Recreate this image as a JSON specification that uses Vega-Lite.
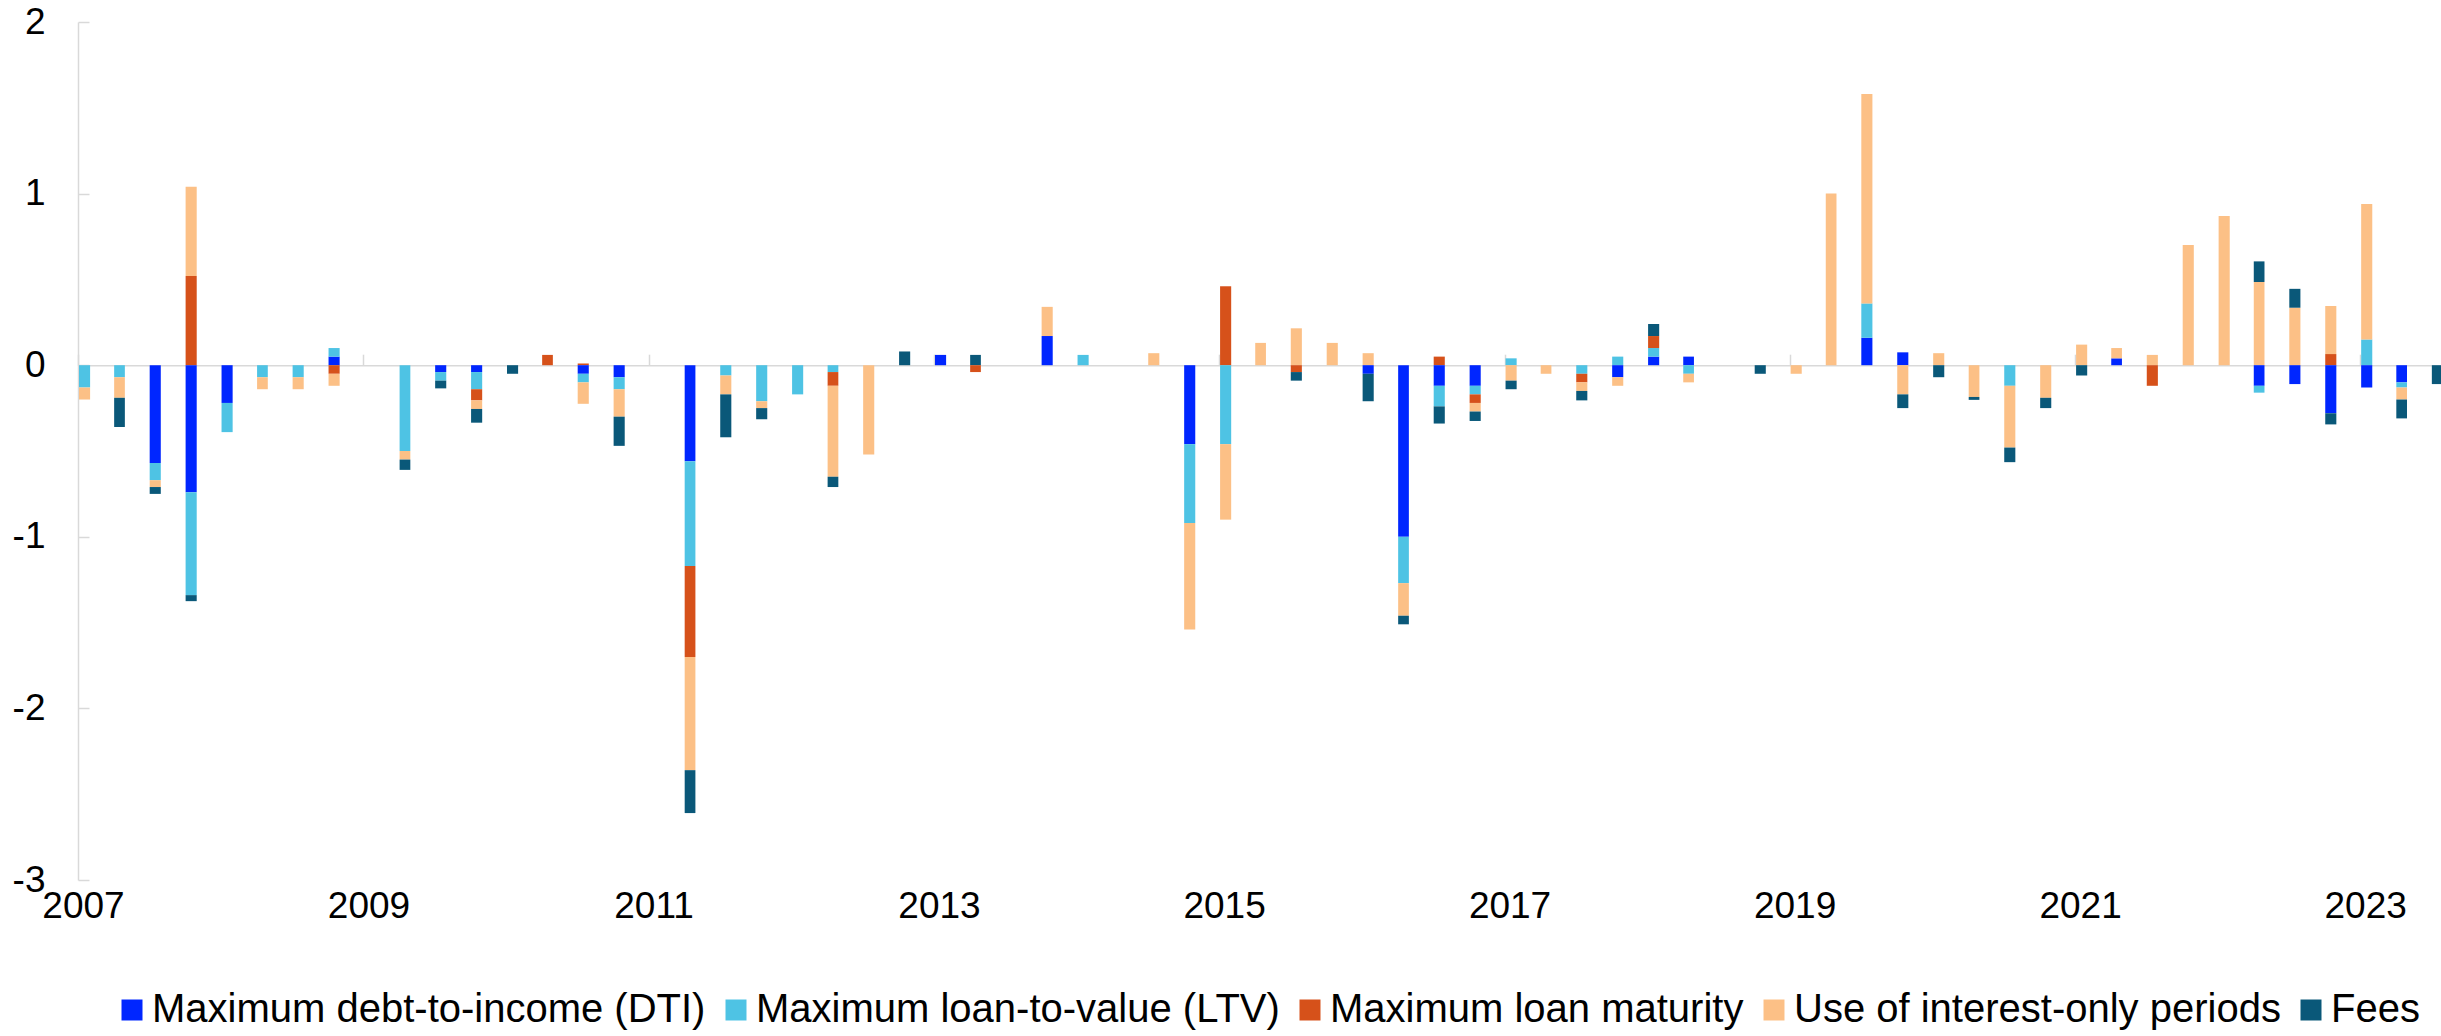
{
  "$schema": "https://vega.github.io/schema/vega-lite/v6.json",
  "width": 2363,
  "height": 858,
  "autosize": {"type": "none"},
  "padding": {"left": 78, "top": 22, "right": 0, "bottom": 156},
  "background": "white",
  "config": {"view": {"stroke": null}, "font": "Liberation Sans"},
  "data": {"values": [
    {"date": "2007-01", "series": "Maximum loan-to-value (LTV)", "value": -0.13},
    {"date": "2007-01", "series": "Use of interest-only periods", "value": -0.07},
    {"date": "2007-04", "series": "Maximum loan-to-value (LTV)", "value": -0.07},
    {"date": "2007-04", "series": "Use of interest-only periods", "value": -0.12},
    {"date": "2007-04", "series": "Fees", "value": -0.17},
    {"date": "2007-07", "series": "Maximum debt-to-income (DTI)", "value": -0.57},
    {"date": "2007-07", "series": "Maximum loan-to-value (LTV)", "value": -0.10},
    {"date": "2007-07", "series": "Use of interest-only periods", "value": -0.04},
    {"date": "2007-07", "series": "Fees", "value": -0.04},
    {"date": "2007-10", "series": "Maximum loan maturity", "value": 0.52},
    {"date": "2007-10", "series": "Use of interest-only periods", "value": 0.52},
    {"date": "2007-10", "series": "Maximum debt-to-income (DTI)", "value": -0.74},
    {"date": "2007-10", "series": "Maximum loan-to-value (LTV)", "value": -0.60},
    {"date": "2007-10", "series": "Fees", "value": -0.035},
    {"date": "2008-01", "series": "Maximum debt-to-income (DTI)", "value": -0.22},
    {"date": "2008-01", "series": "Maximum loan-to-value (LTV)", "value": -0.17},
    {"date": "2008-04", "series": "Maximum loan-to-value (LTV)", "value": -0.07},
    {"date": "2008-04", "series": "Use of interest-only periods", "value": -0.07},
    {"date": "2008-07", "series": "Maximum loan-to-value (LTV)", "value": -0.07},
    {"date": "2008-07", "series": "Use of interest-only periods", "value": -0.07},
    {"date": "2008-10", "series": "Maximum debt-to-income (DTI)", "value": 0.05},
    {"date": "2008-10", "series": "Maximum loan-to-value (LTV)", "value": 0.05},
    {"date": "2008-10", "series": "Maximum loan maturity", "value": -0.05},
    {"date": "2008-10", "series": "Use of interest-only periods", "value": -0.07},
    {"date": "2009-04", "series": "Maximum loan-to-value (LTV)", "value": -0.50},
    {"date": "2009-04", "series": "Use of interest-only periods", "value": -0.05},
    {"date": "2009-04", "series": "Fees", "value": -0.06},
    {"date": "2009-07", "series": "Maximum debt-to-income (DTI)", "value": -0.04},
    {"date": "2009-07", "series": "Maximum loan-to-value (LTV)", "value": -0.05},
    {"date": "2009-07", "series": "Fees", "value": -0.045},
    {"date": "2009-10", "series": "Maximum debt-to-income (DTI)", "value": -0.04},
    {"date": "2009-10", "series": "Maximum loan-to-value (LTV)", "value": -0.10},
    {"date": "2009-10", "series": "Maximum loan maturity", "value": -0.065},
    {"date": "2009-10", "series": "Use of interest-only periods", "value": -0.05},
    {"date": "2009-10", "series": "Fees", "value": -0.08},
    {"date": "2010-01", "series": "Fees", "value": -0.05},
    {"date": "2010-04", "series": "Maximum loan maturity", "value": 0.06},
    {"date": "2010-07", "series": "Maximum loan maturity", "value": 0.01},
    {"date": "2010-07", "series": "Maximum debt-to-income (DTI)", "value": -0.05},
    {"date": "2010-07", "series": "Maximum loan-to-value (LTV)", "value": -0.05},
    {"date": "2010-07", "series": "Use of interest-only periods", "value": -0.125},
    {"date": "2010-10", "series": "Maximum debt-to-income (DTI)", "value": -0.07},
    {"date": "2010-10", "series": "Maximum loan-to-value (LTV)", "value": -0.07},
    {"date": "2010-10", "series": "Use of interest-only periods", "value": -0.16},
    {"date": "2010-10", "series": "Fees", "value": -0.17},
    {"date": "2011-04", "series": "Maximum debt-to-income (DTI)", "value": -0.56},
    {"date": "2011-04", "series": "Maximum loan-to-value (LTV)", "value": -0.61},
    {"date": "2011-04", "series": "Maximum loan maturity", "value": -0.53},
    {"date": "2011-04", "series": "Use of interest-only periods", "value": -0.66},
    {"date": "2011-04", "series": "Fees", "value": -0.25},
    {"date": "2011-07", "series": "Maximum loan-to-value (LTV)", "value": -0.06},
    {"date": "2011-07", "series": "Use of interest-only periods", "value": -0.11},
    {"date": "2011-07", "series": "Fees", "value": -0.25},
    {"date": "2011-10", "series": "Maximum loan-to-value (LTV)", "value": -0.21},
    {"date": "2011-10", "series": "Use of interest-only periods", "value": -0.04},
    {"date": "2011-10", "series": "Fees", "value": -0.065},
    {"date": "2012-01", "series": "Maximum loan-to-value (LTV)", "value": -0.17},
    {"date": "2012-04", "series": "Maximum loan-to-value (LTV)", "value": -0.04},
    {"date": "2012-04", "series": "Maximum loan maturity", "value": -0.08},
    {"date": "2012-04", "series": "Use of interest-only periods", "value": -0.53},
    {"date": "2012-04", "series": "Fees", "value": -0.06},
    {"date": "2012-07", "series": "Use of interest-only periods", "value": -0.52},
    {"date": "2012-10", "series": "Fees", "value": 0.08},
    {"date": "2013-01", "series": "Maximum debt-to-income (DTI)", "value": 0.06},
    {"date": "2013-04", "series": "Fees", "value": 0.06},
    {"date": "2013-04", "series": "Maximum loan maturity", "value": -0.04},
    {"date": "2013-10", "series": "Maximum debt-to-income (DTI)", "value": 0.17},
    {"date": "2013-10", "series": "Use of interest-only periods", "value": 0.17},
    {"date": "2014-01", "series": "Maximum loan-to-value (LTV)", "value": 0.06},
    {"date": "2014-07", "series": "Use of interest-only periods", "value": 0.07},
    {"date": "2014-10", "series": "Maximum debt-to-income (DTI)", "value": -0.46},
    {"date": "2014-10", "series": "Maximum loan-to-value (LTV)", "value": -0.46},
    {"date": "2014-10", "series": "Use of interest-only periods", "value": -0.62},
    {"date": "2015-01", "series": "Maximum loan maturity", "value": 0.46},
    {"date": "2015-01", "series": "Maximum loan-to-value (LTV)", "value": -0.46},
    {"date": "2015-01", "series": "Use of interest-only periods", "value": -0.44},
    {"date": "2015-04", "series": "Use of interest-only periods", "value": 0.13},
    {"date": "2015-07", "series": "Use of interest-only periods", "value": 0.215},
    {"date": "2015-07", "series": "Maximum loan maturity", "value": -0.04},
    {"date": "2015-07", "series": "Fees", "value": -0.05},
    {"date": "2015-10", "series": "Use of interest-only periods", "value": 0.13},
    {"date": "2016-01", "series": "Use of interest-only periods", "value": 0.07},
    {"date": "2016-01", "series": "Maximum debt-to-income (DTI)", "value": -0.05},
    {"date": "2016-01", "series": "Fees", "value": -0.16},
    {"date": "2016-04", "series": "Maximum debt-to-income (DTI)", "value": -1.00},
    {"date": "2016-04", "series": "Maximum loan-to-value (LTV)", "value": -0.27},
    {"date": "2016-04", "series": "Use of interest-only periods", "value": -0.19},
    {"date": "2016-04", "series": "Fees", "value": -0.05},
    {"date": "2016-07", "series": "Maximum loan maturity", "value": 0.05},
    {"date": "2016-07", "series": "Maximum debt-to-income (DTI)", "value": -0.12},
    {"date": "2016-07", "series": "Maximum loan-to-value (LTV)", "value": -0.12},
    {"date": "2016-07", "series": "Fees", "value": -0.10},
    {"date": "2016-10", "series": "Maximum debt-to-income (DTI)", "value": -0.12},
    {"date": "2016-10", "series": "Maximum loan-to-value (LTV)", "value": -0.05},
    {"date": "2016-10", "series": "Maximum loan maturity", "value": -0.05},
    {"date": "2016-10", "series": "Use of interest-only periods", "value": -0.05},
    {"date": "2016-10", "series": "Fees", "value": -0.055},
    {"date": "2017-01", "series": "Maximum loan-to-value (LTV)", "value": 0.04},
    {"date": "2017-01", "series": "Use of interest-only periods", "value": -0.09},
    {"date": "2017-01", "series": "Fees", "value": -0.05},
    {"date": "2017-04", "series": "Use of interest-only periods", "value": -0.05},
    {"date": "2017-07", "series": "Maximum loan-to-value (LTV)", "value": -0.05},
    {"date": "2017-07", "series": "Maximum loan maturity", "value": -0.05},
    {"date": "2017-07", "series": "Use of interest-only periods", "value": -0.05},
    {"date": "2017-07", "series": "Fees", "value": -0.055},
    {"date": "2017-10", "series": "Maximum loan-to-value (LTV)", "value": 0.05},
    {"date": "2017-10", "series": "Maximum debt-to-income (DTI)", "value": -0.07},
    {"date": "2017-10", "series": "Use of interest-only periods", "value": -0.05},
    {"date": "2018-01", "series": "Maximum debt-to-income (DTI)", "value": 0.05},
    {"date": "2018-01", "series": "Maximum loan-to-value (LTV)", "value": 0.05},
    {"date": "2018-01", "series": "Maximum loan maturity", "value": 0.07},
    {"date": "2018-01", "series": "Fees", "value": 0.07},
    {"date": "2018-04", "series": "Maximum debt-to-income (DTI)", "value": 0.05},
    {"date": "2018-04", "series": "Maximum loan-to-value (LTV)", "value": -0.05},
    {"date": "2018-04", "series": "Use of interest-only periods", "value": -0.05},
    {"date": "2018-10", "series": "Fees", "value": -0.05},
    {"date": "2019-01", "series": "Use of interest-only periods", "value": -0.05},
    {"date": "2019-04", "series": "Use of interest-only periods", "value": 1.00},
    {"date": "2019-07", "series": "Maximum debt-to-income (DTI)", "value": 0.16},
    {"date": "2019-07", "series": "Maximum loan-to-value (LTV)", "value": 0.20},
    {"date": "2019-07", "series": "Use of interest-only periods", "value": 1.22},
    {"date": "2019-10", "series": "Maximum debt-to-income (DTI)", "value": 0.075},
    {"date": "2019-10", "series": "Use of interest-only periods", "value": -0.17},
    {"date": "2019-10", "series": "Fees", "value": -0.08},
    {"date": "2020-01", "series": "Use of interest-only periods", "value": 0.07},
    {"date": "2020-01", "series": "Fees", "value": -0.07},
    {"date": "2020-04", "series": "Use of interest-only periods", "value": -0.185},
    {"date": "2020-04", "series": "Fees", "value": -0.017},
    {"date": "2020-07", "series": "Maximum loan-to-value (LTV)", "value": -0.12},
    {"date": "2020-07", "series": "Use of interest-only periods", "value": -0.36},
    {"date": "2020-07", "series": "Fees", "value": -0.085},
    {"date": "2020-10", "series": "Use of interest-only periods", "value": -0.19},
    {"date": "2020-10", "series": "Fees", "value": -0.06},
    {"date": "2021-01", "series": "Use of interest-only periods", "value": 0.12},
    {"date": "2021-01", "series": "Fees", "value": -0.06},
    {"date": "2021-04", "series": "Maximum debt-to-income (DTI)", "value": 0.04},
    {"date": "2021-04", "series": "Use of interest-only periods", "value": 0.06},
    {"date": "2021-07", "series": "Use of interest-only periods", "value": 0.06},
    {"date": "2021-07", "series": "Maximum loan maturity", "value": -0.12},
    {"date": "2021-10", "series": "Use of interest-only periods", "value": 0.70},
    {"date": "2022-01", "series": "Use of interest-only periods", "value": 0.87},
    {"date": "2022-04", "series": "Use of interest-only periods", "value": 0.485},
    {"date": "2022-04", "series": "Fees", "value": 0.12},
    {"date": "2022-04", "series": "Maximum debt-to-income (DTI)", "value": -0.12},
    {"date": "2022-04", "series": "Maximum loan-to-value (LTV)", "value": -0.04},
    {"date": "2022-07", "series": "Use of interest-only periods", "value": 0.335},
    {"date": "2022-07", "series": "Fees", "value": 0.11},
    {"date": "2022-07", "series": "Maximum debt-to-income (DTI)", "value": -0.11},
    {"date": "2022-10", "series": "Maximum loan maturity", "value": 0.065},
    {"date": "2022-10", "series": "Use of interest-only periods", "value": 0.28},
    {"date": "2022-10", "series": "Maximum debt-to-income (DTI)", "value": -0.28},
    {"date": "2022-10", "series": "Fees", "value": -0.065},
    {"date": "2023-01", "series": "Maximum loan-to-value (LTV)", "value": 0.15},
    {"date": "2023-01", "series": "Use of interest-only periods", "value": 0.79},
    {"date": "2023-01", "series": "Maximum debt-to-income (DTI)", "value": -0.13},
    {"date": "2023-04", "series": "Maximum debt-to-income (DTI)", "value": -0.10},
    {"date": "2023-04", "series": "Maximum loan-to-value (LTV)", "value": -0.03},
    {"date": "2023-04", "series": "Use of interest-only periods", "value": -0.07},
    {"date": "2023-04", "series": "Fees", "value": -0.11},
    {"date": "2023-07", "series": "Fees", "value": -0.11}
  ]},
  "transform": [
    {"calculate": "indexof(['Maximum debt-to-income (DTI)','Maximum loan-to-value (LTV)','Maximum loan maturity','Use of interest-only periods','Fees'], datum.series)", "as": "ord"}
  ],
  "mark": {"type": "bar", "strokeWidth": 0},
  "encoding": {
    "x": {
      "field": "date",
      "type": "temporal",
      "timeUnit": "utcyearmonth",
      "scale": {"domain": [{"year": 2007, "month": 1, "date": 1, "utc": true}, {"year": 2023, "month": 7, "date": 27, "utc": true}]},
      "axis": {
        "title": null,
        "orient": "bottom",
        "offset": -514.8,
        "values": [
          {"year": 2007, "month": 1, "date": 1, "utc": true},
          {"year": 2009, "month": 1, "date": 1, "utc": true},
          {"year": 2011, "month": 1, "date": 1, "utc": true},
          {"year": 2013, "month": 1, "date": 1, "utc": true},
          {"year": 2015, "month": 1, "date": 1, "utc": true},
          {"year": 2017, "month": 1, "date": 1, "utc": true},
          {"year": 2019, "month": 1, "date": 1, "utc": true},
          {"year": 2021, "month": 1, "date": 1, "utc": true},
          {"year": 2023, "month": 1, "date": 1, "utc": true}
        ],
        "labelExpr": "utcFormat(datum.value, '%Y')",
        "grid": false,
        "domainColor": "#d9d9d9",
        "domainWidth": 1.5,
        "tickColor": "#d9d9d9",
        "tickWidth": 1.5,
        "tickSize": -11,
        "labelPadding": 534,
        "labelOffset": 5,
        "labelFlush": false,
        "labelOverlap": false,
        "labelFont": "Liberation Sans",
        "labelFontSize": 37,
        "labelColor": "#000000"
      }
    },
    "y": {
      "field": "value",
      "type": "quantitative",
      "stack": "zero",
      "scale": {"domain": [-3, 2], "nice": false},
      "axis": {
        "title": null,
        "values": [-3, -2, -1, 0, 1, 2],
        "labelExpr": "'' + datum.value",
        "grid": false,
        "domainColor": "#d9d9d9",
        "domainWidth": 1.5,
        "tickColor": "#d9d9d9",
        "tickWidth": 1.5,
        "tickSize": -11,
        "labelPadding": 44,
        "labelFont": "Liberation Sans",
        "labelFontSize": 37,
        "labelColor": "#000000"
      }
    },
    "color": {
      "field": "series",
      "type": "nominal",
      "scale": {
        "domain": ["Maximum debt-to-income (DTI)", "Maximum loan-to-value (LTV)", "Maximum loan maturity", "Use of interest-only periods", "Fees"],
        "range": ["#0026FF", "#4EC3E4", "#D6511A", "#FCC086", "#0A5879"]
      },
      "legend": {
        "title": null,
        "orient": "none",
        "direction": "horizontal",
        "legendX": 34,
        "legendY": 968,
        "symbolType": "square",
        "symbolSize": 441,
        "symbolStrokeWidth": 0,
        "symbolOpacity": 1,
        "labelFont": "Liberation Sans",
        "labelFontSize": 40,
        "labelColor": "#000000",
        "labelLimit": 0,
        "labelOffset": 0,
        "columnPadding": 10
      }
    },
    "order": {"field": "ord", "type": "quantitative"}
  }
}
